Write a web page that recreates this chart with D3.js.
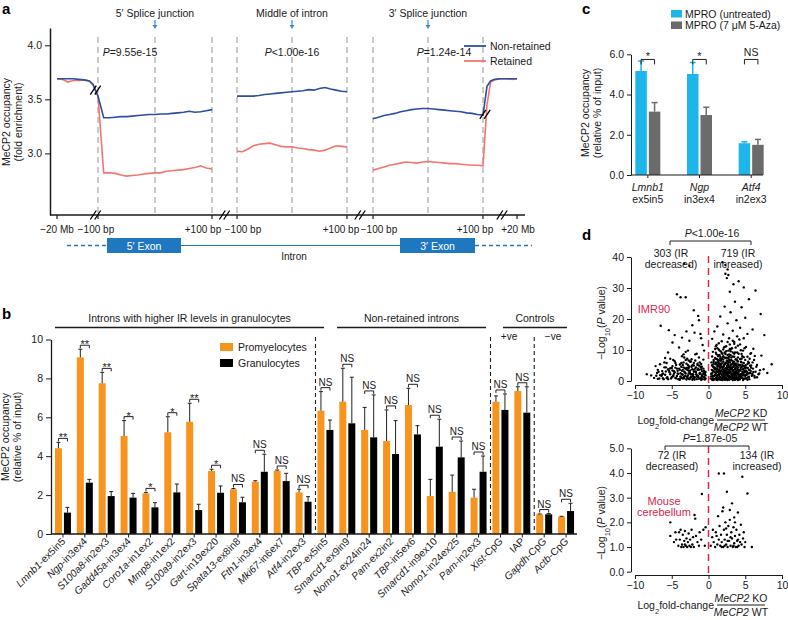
<!DOCTYPE html>
<html><head><meta charset="utf-8">
<script src="https://cdn.jsdelivr.net/npm/d3@7/dist/d3.min.js"></script>
<style>body{margin:0;background:#fff} svg{font-family:"Liberation Sans",Arial,sans-serif}</style>
</head><body><svg id="chart" width="788" height="620"></svg>
<script>
// ================= DATA =================
// Panel a: MeCP2 fold enrichment profiles
const aFlankPos = [0, 0.15, 0.3, 0.45, 0.6, 0.75, 0.9, 1];
const aFlankBlue = [3.69, 3.69, 3.69, 3.69, 3.685, 3.68, 3.67, 3.64];
const aFlankRed  = [3.69, 3.685, 3.66, 3.675, 3.675, 3.68, 3.67, 3.63];
const aBp = [-100,-90,-80,-70,-60,-50,-40,-30,-20,-10,0,10,20,30,40,50,60,70,80,90,100];
const a5Blue = [3.53,3.33,3.33,3.335,3.34,3.34,3.345,3.35,3.355,3.36,3.36,3.365,3.365,3.37,3.375,3.38,3.39,3.38,3.385,3.395,3.405];
const a5Red  = [3.53,2.82,2.82,2.815,2.80,2.79,2.795,2.80,2.81,2.815,2.82,2.82,2.835,2.84,2.845,2.85,2.86,2.87,2.885,2.865,2.855];
const aMidBlue = [3.53,3.53,3.53,3.53,3.535,3.545,3.55,3.555,3.56,3.565,3.57,3.575,3.58,3.59,3.585,3.60,3.61,3.595,3.585,3.575,3.57];
const aMidRed  = [3.02,3.015,3.04,3.07,3.085,3.09,3.095,3.08,3.065,3.06,3.06,3.05,3.045,3.035,3.03,3.02,3.03,3.05,3.07,3.065,3.06];
const a3Blue = [3.32,3.335,3.35,3.36,3.37,3.385,3.395,3.405,3.41,3.415,3.415,3.41,3.405,3.40,3.395,3.39,3.385,3.375,3.37,3.36,3.355];
const a3Red  = [2.845,2.86,2.875,2.89,2.90,2.91,2.92,2.915,2.91,2.92,2.925,2.92,2.915,2.91,2.905,2.905,2.90,2.895,2.89,2.89,2.885];
const aFlankRPos = [0, 0.12, 0.25, 0.45, 0.65, 0.85, 1];
const aFlankRBlue = [3.62, 3.67, 3.685, 3.69, 3.69, 3.69, 3.69];
const aFlankRRed  = [3.45, 3.66, 3.68, 3.69, 3.69, 3.685, 3.69];
const aYTicks = [3.0, 3.5, 4.0];
const aSegTitles = ["5\u2032 Splice junction", "Middle of intron", "3\u2032 Splice junction"];
const aPvals = ["=9.55e-15", "<1.00e-16", "=1.24e-14"];

// Panel b
const bGenes = ["Lmnb1","Ngp","S100a8","Gadd45a","Coro1a","Mmp8","S100a9","Gart","Spata13","Fth1","Mki67","Atf4",
  "TBP","Smarcd1","Nomo1","Pam","TBP","Smarcd1","Nomo1","Pam","Xist","IAP","Gapdh","Actb"];
const bSuffix = ["-ex5in5","-in3ex4","-in2ex3","-in3ex4","-in1ex2","-in1ex2","-in2ex3","-in19ex20","-ex8in8","-in3ex4","-in6ex7","-in2ex3",
  "-ex5in5","-ex9in9","-ex24in24","-ex2in2","-in5ex6","-in9ex10","-in24ex25","-in2ex3","-CpG","","-CpG","-CpG"];
const bItalic = [1,1,1,1,1,1,1,1,1,1,1,1,1,1,1,1,1,1,1,1,1,0,1,1];
const promyelocytes    = [4.41,9.08,7.75,5.04,2.09,5.23,5.77,3.24,2.30,2.69,3.25,2.14,6.34,6.80,5.35,4.78,6.63,1.95,2.17,1.87,6.80,7.35,1.01,0.89];
const promyelocytesErr = [4.71,9.50,8.31,5.83,2.14,6.03,6.72,3.33,2.34,2.74,3.29,2.30,7.32,8.52,6.51,6.38,7.49,2.81,3.03,2.30,7.10,7.57,1.03,0.91];
const granulocytes     = [1.10,2.64,1.95,1.87,1.37,2.14,1.23,2.12,1.63,3.20,2.72,1.66,5.35,5.69,4.97,4.11,5.12,4.49,3.94,3.20,6.38,6.24,1.01,1.18];
const granulocytesErr  = [1.37,2.81,2.18,2.09,1.61,2.57,1.53,2.47,1.89,4.10,3.12,1.92,5.86,8.06,7.15,5.83,5.57,5.90,4.78,4.01,7.20,7.57,1.05,1.58];
const bSig = ["**","**","**","*","*","*","**","*","NS","NS","NS","NS","NS","NS","NS","NS","NS","NS","NS","NS","NS","NS","NS","NS"];
const bYTicks = [0,2,4,6,8,10];
const bGroups = ["Introns with higher IR levels in granulocytes", "Non-retained introns", "Controls"];

// Panel c
const cGenes = ["Lmnb1","Ngp","Atf4"];
const cSub = ["ex5in5","in3ex4","in2ex3"];
const mproUntreated = [5.17, 5.02, 1.58];
const mproUntreatedErr = [5.67, 5.59, 1.65];
const mproAza = [3.15, 2.98, 1.50];
const mproAzaErr = [3.60, 3.37, 1.77];
const cSig = ["*","*","NS"];
const cYTicks = [0,2,4,6];

// Panel d: volcano points [log2 fold-change, -log10 P]
const imr90Points = [
 [-8.4,2.2],[-7.2,4.8],[-6.9,3.6],[-6.5,17.8],[-6.2,2.4],[-6.0,6.0],[-5.8,4.4],[-5.5,9.2],[-5.4,16.4],[-5.2,7.2],[-4.9,12.4],[-4.6,14.8],
 [-4.3,28.0],[-3.8,27.0],[-3.1,27.0],[-4.0,10.8],[-3.6,14.0],[-3.0,16.0],[-2.6,13.0],[-2.2,18.0],[-1.9,15.6],[-1.4,21.0],[-1.3,19.6],[-1.0,13.8],
 [-0.8,11.6],[-2.8,9.8],[-3.4,8.6],[-1.6,8.8],[-0.6,9.8],[-1.1,15.2],[-2.0,22.8],
 [-7.8,1.8],[-7.4,1.0],[-7.0,2.6],[-6.7,0.8],[-6.4,1.6],[-6.1,0.6],[-5.9,2.0],[-5.6,1.2],[-5.3,2.8],[-5.1,0.8],[-5.0,4.2],[-4.8,1.8],
 [-4.7,3.2],[-4.5,1.0],[-4.4,5.2],[-4.2,2.4],[-4.1,0.6],[-3.9,3.6],[-3.8,1.4],[-3.7,5.8],[-3.6,2.2],[-3.5,0.8],[-3.4,4.4],[-3.3,3.0],
 [-3.2,1.6],[-3.1,6.8],[-3.0,3.8],[-2.9,1.0],[-2.8,5.2],[-2.7,2.4],[-2.6,0.6],[-2.5,6.2],[-2.5,3.4],[-2.4,1.4],[-2.3,4.6],[-2.2,2.0],
 [-2.1,0.8],[-2.0,5.8],[-2.0,3.0],[-1.9,1.2],[-1.8,4.0],[-1.7,2.2],[-1.6,0.6],[-1.5,3.6],[-1.4,1.6],[-1.3,5.0],[-1.2,2.6],[-1.1,1.0],
 [-1.0,3.8],[-0.9,1.8],[-0.8,0.6],[-0.7,3.0],[-0.6,1.2],[-0.5,2.2],[-0.4,0.8],[-3.3,7.6],[-2.9,7.2],[-1.8,6.6],[-4.6,6.4],[-5.7,5.8],
 [-6.6,5.4],[-3.5,5.2],[-2.3,7.0],[-1.2,6.0],[-4.0,4.0],[-2.7,4.2],[-1.5,5.2],[-0.9,4.6],[-3.9,0.4],[-2.2,0.4],[-1.0,0.4],[-4.9,3.4],
 [-5.5,3.8],[-6.3,3.2],
 [-7.1,1.7],[-6.8,3.0],[-6.3,2.1],[-6.0,4.4],[-5.7,1.0],[-5.4,3.4],[-5.2,2.2],[-4.9,4.8],[-4.8,1.5],[-4.6,2.8],[-4.4,0.9],[-4.3,4.0],
 [-4.1,2.3],[-3.9,5.3],[-3.8,1.4],[-3.6,3.3],[-3.5,2.0],[-3.4,6.0],[-3.3,0.9],[-3.2,4.1],[-3.1,2.4],[-3.0,5.6],[-2.9,1.5],[-2.8,3.5],
 [-2.7,0.8],[-2.6,4.7],[-2.5,2.5],[-2.4,6.3],[-2.3,1.3],[-2.2,3.8],[-2.1,2.2],[-2.0,5.0],[-1.9,1.1],[-1.8,3.1],[-1.7,4.4],[-1.6,2.0],
 [-1.5,5.6],[-1.4,1.2],[-1.3,3.6],[-1.2,2.3],[-1.1,4.6],[-1.0,1.0],[-0.9,3.2],[-0.8,2.0],[-0.7,4.0],[-0.6,1.3],[-0.5,2.6],[-0.4,1.8],
 [-3.7,4.6],[-4.5,5.8],[-3.3,37.8],[-2.6,37.2],
 [-6.9,0.7],[-6.6,1.9],[-6.2,0.9],[-5.8,3.1],[-5.5,0.6],[-5.2,4.1],[-5.0,1.2],[-4.7,2.3],[-4.5,4.3],[-4.3,1.6],[-4.2,3.3],[-4.0,0.6],
 [-3.8,2.5],[-3.7,1.0],[-3.5,3.6],[-3.4,1.2],[-3.2,2.7],[-3.0,0.5],[-2.9,4.3],[-2.8,1.8],[-2.6,3.0],[-2.5,0.9],[-2.4,2.2],[-2.2,5.1],
 [-2.1,1.6],[-2.0,3.6],[-1.9,0.5],[-1.7,2.9],[-1.6,1.4],[-1.4,4.0],[-1.3,0.7],[-1.1,2.4],[-1.0,5.5],[-0.9,1.4],[-0.7,2.3],[-0.6,3.3],
 [-0.5,0.5],[-0.4,2.9],[-4.8,6.8],[-3.6,8.0],[-2.7,6.6],[-1.8,8.6],[-5.9,7.4],[-1.3,7.6],[-0.7,6.9],[-3.1,9.4],
 [1.9,38.3],[2.6,36.0],[2.3,37.4],
 [2.3,34.6],[2.7,34.2],[2.5,33.2],[4.1,32.2],[3.4,31.2],[4.8,30.2],[2.9,28.8],[6.4,29.2],[5.5,26.4],[3.6,25.6],[2.2,24.0],[4.5,23.8],
 [7.1,21.6],[3.0,22.2],[1.6,20.8],[5.0,20.4],[3.8,19.6],[2.6,18.6],[6.0,16.6],[1.2,17.6],[4.3,17.2],[0.8,16.0],[3.3,16.2],[5.3,15.2],
 [2.0,15.0],[7.6,14.8],[0.5,13.6],[4.8,13.8],[6.6,5.2],[8.6,5.4],[7.2,8.2],[6.1,10.4],[5.7,8.8],[8.0,2.6],[7.5,3.8],[6.9,2.4],[3.9,14.4],
 [1.8,12.8],[2.8,13.8],[3.5,12.6],[4.3,11.8],[5.1,11.0],[1.0,11.2],
 [0.3,0.8],[0.4,2.4],[0.5,0.4],[0.5,5.0],[0.6,1.6],[0.7,3.2],[0.7,6.8],[0.8,0.6],[0.9,2.0],[0.9,4.2],[1.0,1.0],[1.0,6.0],[1.1,2.8],
 [1.1,0.4],[1.2,5.2],[1.2,1.4],[1.3,3.6],[1.3,8.0],[1.4,0.8],[1.4,2.2],[1.5,4.6],[1.5,6.6],[1.6,1.2],[1.6,3.0],[1.7,0.4],[1.7,5.6],
 [1.8,2.0],[1.8,9.0],[1.9,0.8],[1.9,3.8],[2.0,1.6],[2.0,6.2],[2.1,2.6],[2.1,0.6],[2.1,4.8],[2.2,1.2],[2.2,3.4],[2.3,7.4],[2.3,0.4],
 [2.3,2.2],[2.4,4.0],[2.4,1.0],[2.5,2.8],[2.5,5.8],[2.5,0.6],[2.6,1.8],[2.6,8.4],[2.7,3.6],[2.7,0.8],[2.7,5.0],[2.8,2.4],[2.8,0.4],
 [2.8,6.8],[2.9,1.4],[2.9,4.2],[3.0,3.0],[3.0,0.6],[3.0,9.6],[3.1,2.0],[3.1,5.4],[3.2,1.0],[3.2,3.8],[3.3,6.4],[3.3,1.8],[3.4,0.6],
 [3.4,2.8],[3.4,4.6],[3.5,1.2],[3.5,7.8],[3.6,2.2],[3.6,3.8],[3.7,0.8],[3.7,5.6],[3.8,3.2],[3.8,1.6],[3.9,6.6],[3.9,0.6],[4.0,2.4],
 [4.0,4.4],[4.1,1.2],[4.1,8.8],[4.2,3.4],[4.3,0.8],[4.3,5.2],[4.4,2.0],[4.5,7.2],[4.5,1.0],[4.6,3.8],[4.7,1.8],[4.8,5.8],[4.9,2.8],
 [5.0,0.8],[5.1,4.4],[5.2,2.2],[5.4,6.2],[5.5,1.4],[5.6,3.6],[5.8,5.0],[6.0,2.0],[6.2,6.8],[2.0,10.2],[2.4,11.2],[3.2,10.6],[1.5,9.8],
 [3.6,9.2],[2.9,11.8],[4.7,9.8],[1.1,8.6],[0.6,9.4],[4.0,11.4],[5.3,7.8],[1.9,7.6],[2.6,6.4],[3.8,4.8],[4.4,6.2],[1.4,5.8],[0.8,4.0],
 [1.6,7.2],[3.1,7.6],[2.2,9.2],[2.8,8.6],[4.9,4.6],[5.7,2.6],[0.4,6.0],[1.2,10.6],[3.5,5.6],[2.4,2.6],[1.8,4.6],[3.0,4.4],
 [0.4,2.2],[0.5,5.1],[0.6,3.3],[0.6,0.9],[0.7,6.2],[0.8,4.4],[0.8,1.7],[0.9,7.4],[0.9,3.8],[1.0,2.6],[1.0,9.1],[1.0,0.9],[1.1,5.8],
 [1.1,3.3],[1.2,1.9],[1.2,7.0],[1.2,4.6],[1.3,0.8],[1.3,2.9],[1.3,6.1],[1.4,8.3],[1.4,3.7],[1.5,1.3],[1.5,5.4],[1.5,0.5],[1.6,2.5],
 [1.6,7.8],[1.6,4.2],[1.7,1.0],[1.7,6.5],[1.7,3.4],[1.8,2.0],[1.8,5.7],[1.8,0.6],[1.9,3.0],[1.9,8.8],[1.9,1.4],[2.0,4.6],[2.0,2.2],
 [2.0,6.9],[2.1,0.9],[2.1,3.6],[2.1,5.3],[2.2,2.8],[2.2,1.1],[2.2,7.6],[2.3,4.1],[2.3,2.0],[2.3,5.9],[2.4,0.8],[2.4,3.3],[2.4,9.6],
 [2.5,2.2],[2.5,4.9],[2.5,6.6],[2.6,1.5],[2.6,3.8],[2.6,0.6],[2.7,5.4],[2.7,2.9],[2.7,7.3],[2.8,1.6],[2.8,4.5],[2.8,0.9],[2.9,3.5],
 [2.9,6.0],[2.9,1.3],[3.0,2.7],[3.0,8.3],[3.0,5.0],[3.1,0.7],[3.1,3.9],[3.1,6.8],[3.2,2.3],[3.2,4.4],[3.2,1.2],[3.3,5.6],[3.3,2.0],
 [3.3,7.9],[3.4,3.6],[3.4,1.0],[3.4,4.9],[3.5,2.4],[3.5,6.2],[3.5,1.6],[3.6,3.0],[3.6,5.1],[3.6,0.8],[3.7,4.0],[3.7,1.9],[3.7,7.0],
 [3.8,3.2],[3.8,5.6],[3.8,1.2],[3.9,2.4],[3.9,4.7],[4.0,0.9],[4.0,3.6],[4.0,6.3],[4.1,1.8],[4.1,2.9],[4.2,5.0],[4.2,0.7],[4.3,3.4],
 [4.3,1.4],[4.4,4.4],[4.4,2.2],[4.5,6.0],[4.5,1.1],[4.6,3.0],[4.6,5.2],[4.7,1.9],[4.7,3.9],[4.8,0.8],[4.8,4.8],[4.9,2.8],[5.0,1.6],
 [5.0,4.1],[5.1,3.3],[5.2,2.0],[5.3,5.5],[5.4,1.2],[5.5,3.6],[5.6,2.6],[5.8,4.3],[5.9,1.7],[6.1,2.9],[6.3,1.1],[6.5,4.6],[6.8,2.2],
 [7.0,3.5],[1.4,10.2],[2.2,11.0],[3.1,10.4],[3.9,9.2],[4.6,8.0],[2.7,9.8],[1.1,11.6],[3.5,12.0],[4.9,10.6],[5.6,7.2],[6.0,6.0],
 [0.35,1.5],[0.45,3.6],[0.55,2.7],[0.65,4.5],[0.75,0.5],[0.85,2.9],[0.95,5.4],[1.05,1.8],[1.15,3.9],[1.25,0.6],[1.35,4.8],[1.45,1.9],
 [1.55,3.2],[1.65,5.1],[1.75,2.3],[1.85,0.9],[1.95,4.3],[2.05,2.9],[2.15,1.5],[2.25,5.5],[2.35,3.1],[2.45,0.7],[2.55,4.4],[2.65,2.4],
 [2.75,6.1],[2.85,3.0],[2.95,0.9],[3.05,4.1],[3.15,1.6],[3.25,3.3],[3.35,5.9],[3.45,2.0],[3.55,0.5],[3.65,4.3],[3.75,2.6],[3.85,1.0],
 [3.95,3.9],[4.05,5.3],[4.15,2.1],[4.25,0.5],[4.35,3.8],[4.45,1.6],[4.55,4.6],[4.65,2.5],[4.75,0.6],[4.85,3.4],[4.95,1.9],[5.05,5.1],
 [5.15,0.9],[5.25,2.9],[5.35,4.2],[5.45,2.4],[5.55,0.6],[5.65,4.9],[5.75,3.2],[5.95,2.3],[6.05,4.0],[6.25,1.6],[6.4,3.0],[6.6,1.2],
 [1.0,7.2],[1.5,8.4],[2.0,8.0],[2.5,7.5],[3.0,6.6],[3.5,8.8],[4.0,7.6],[4.5,8.7],[5.0,6.8],[5.5,5.8],[1.3,6.6],[1.8,7.1],[2.3,8.7],
 [2.8,7.8],[3.3,9.2],[3.8,6.9],[4.3,7.1],[4.8,7.7],[0.7,5.6],[0.5,7.9],[2.1,10.8],[2.9,10.3],[3.7,10.8],[1.7,9.5],[4.4,9.9],[0.9,10.3],
 [5.8,9.0],[6.3,8.1],[2.6,12.6],[3.3,13.0],[1.4,12.2],[4.2,13.4],[1.9,0.3],[2.6,0.3],[3.3,0.3],[4.0,0.3],[4.7,0.3],[1.2,0.3],[0.6,0.3],
 [5.3,0.4],[2.2,0.5],[3.6,0.4]];
const cerebellumPoints = [
 [-5.2,2.0],[-5.2,1.45],[-4.7,1.2],[-4.4,1.3],[-4.0,1.6],[-3.8,1.7],[-3.6,1.1],[-3.5,1.5],[-3.4,1.0],[-3.3,1.25],[-3.2,1.65],[-3.1,1.05],
 [-3.0,1.35],[-2.9,1.0],[-2.8,1.2],[-2.7,1.55],[-2.6,1.05],[-2.5,1.3],[-2.3,1.7],[-2.2,1.1],[-2.0,1.0],[-1.9,2.3],[-1.8,2.15],[-1.7,1.45],
 [-1.5,1.2],[-1.2,1.6],[-0.9,3.15],[-0.4,1.8],[-0.5,1.05],[-3.7,1.0],[-3.9,1.3],[-4.1,1.05],[-2.4,1.0],[-1.3,1.05],[-2.1,1.4],[-3.2,1.1],
 [-1.0,1.3],[-4.5,1.6],[-0.7,1.7],
 [0.3,1.05],[0.5,1.4],[0.7,1.2],[0.9,1.0],[1.0,1.6],[1.2,1.1],[1.4,3.98],[2.1,3.98],[1.4,1.3],[1.5,1.85],[1.6,1.05],[1.7,1.5],[1.8,1.2],
 [1.9,2.45],[2.0,1.0],[2.1,1.7],[2.2,1.3],[2.3,2.0],[2.4,1.1],[2.5,3.24],[2.5,1.5],[2.6,1.0],[2.7,1.85],[2.8,1.25],[2.9,2.1],[3.0,1.05],
 [3.1,1.6],[3.2,2.77],[3.2,1.35],[3.3,1.0],[3.4,1.8],[3.5,1.15],[3.5,2.2],[3.6,1.45],[3.7,1.0],[3.8,1.7],[3.9,1.25],[4.0,2.4],[4.1,1.05],
 [4.2,1.5],[4.3,1.2],[4.4,1.9],[4.6,3.85],[4.5,1.1],[4.7,1.35],[4.9,1.0],[5.0,1.2],[5.3,3.17],[5.9,1.0],[1.3,2.25],[2.0,2.6],[2.9,2.5],
 [3.6,2.0],[3.0,1.4],[2.4,1.75],[1.1,1.45],[0.6,1.7],[3.9,1.0],[4.8,1.6],[2.2,1.05],[1.8,1.0],[3.4,1.05],[2.6,1.25],[4.0,1.3]];
const dXTicks = [-10,-5,0,5,10];
const dTopYTicks = [0,10,20,30,40];
const dBotYTicks = [0,1,2,3,4,5];

// ================= DRAWING =================
const svg = d3.select("#chart");
const INK = "#1a1a1a";
function txt(x, y, s, o = {}) {
  const t = svg.append("text").attr("x", x).attr("y", y).text(s)
    .attr("font-size", o.size || 10.5).attr("fill", o.fill || INK)
    .attr("text-anchor", o.anchor || "start");
  if (o.weight) t.attr("font-weight", o.weight);
  if (o.italic) t.attr("font-style", "italic");
  return t;
}
function line(x1, y1, x2, y2, o = {}) {
  const l = svg.append("line").attr("x1", x1).attr("y1", y1).attr("x2", x2).attr("y2", y2)
    .attr("stroke", o.stroke || INK).attr("stroke-width", o.w || 1);
  if (o.dash) l.attr("stroke-dasharray", o.dash);
  return l;
}
function styleAxis(g, size) {
  g.selectAll("text").attr("font-size", size || 10.5).attr("fill", INK).attr("font-family", '"Liberation Sans", Arial, sans-serif');
  g.selectAll("line,path").attr("stroke", INK);
}
function rotLabel(x, y, lines, size) {
  const g = svg.append("g").attr("transform", `translate(${x},${y}) rotate(-90)`);
  lines.forEach((l, i) => {
    const t = g.append("text").attr("x", 0).attr("y", i * 12).attr("text-anchor", "middle")
      .attr("font-size", size || 10.5).attr("fill", INK);
    l.forEach(p => {
      const s = t.append("tspan").text(p.t);
      if (p.i) s.attr("font-style", "italic");
      if (p.sub) s.attr("font-size", 7.5).attr("baseline-shift", "sub");
    });
  });
}
function panelLetter(x, y, s) { txt(x, y, s, {size: 15, weight: "bold", fill: "#000"}); }

// ---------- Panel a ----------
panelLetter(2, 14, "a");
const aY = d3.scaleLinear().domain([2.43, 4.16]).range([215, 28]);
const aXL = d3.scaleLinear().domain([0, 1]).range([57, 93]);
const aX5 = d3.scaleLinear().domain([-100, 100]).range([98, 212]);
const aXM = d3.scaleLinear().domain([-100, 100]).range([237, 347]);
const aX3 = d3.scaleLinear().domain([-100, 100]).range([373, 483]);
const aXR = d3.scaleLinear().domain([0, 1]).range([487, 517]);
const BLUE = "#2c4fa3", RED = "#f2766f", GRAYD = "#bdbdbd";

[aX5, aXM, aX3].forEach(s => [-100, 0, 100].forEach(b =>
  line(s(b), 37, s(b), 215, {stroke: GRAYD, w: 1.6, dash: "6,4"})));

[aX5, aXM, aX3].forEach((s, i) => {
  txt(s(0), 17, aSegTitles[i], {anchor: "middle", size: 10.5});
  line(s(0), 20, s(0), 26, {stroke: "#3b8bd0", w: 1.2});
  svg.append("path").attr("d", `M${s(0)-2.5},25 L${s(0)+2.5},25 L${s(0)},29 Z`).attr("fill", "#3b8bd0");
});
const pOff = [-25, 0, 16];
[aX5, aXM, aX3].forEach((s, i) => {
  const t = txt(s(0) + pOff[i], 56, "", {anchor: "middle", size: 10.5});
  t.append("tspan").attr("font-style", "italic").text("P");
  t.append("tspan").text(aPvals[i]);
});

const lineGen = d3.line().x(d => d[0]).y(d => aY(d[1]));
function drawA(pts, color) {
  svg.append("path").attr("d", lineGen(pts)).attr("fill", "none").attr("stroke", color).attr("stroke-width", 1.6);
}
const zipS = (pos, vals, sc) => pos.map((p, i) => [sc(p), vals[i]]);
drawA(zipS(aFlankPos, aFlankRed, aXL).concat(zipS(aBp, a5Red, aX5)), RED);
drawA(zipS(aFlankPos, aFlankBlue, aXL).concat(zipS(aBp, a5Blue, aX5)), BLUE);
drawA(zipS(aBp, aMidRed, aXM), RED);
drawA(zipS(aBp, aMidBlue, aXM), BLUE);
drawA(zipS(aBp, a3Red, aX3).concat(zipS(aFlankRPos, aFlankRRed, aXR)), RED);
drawA(zipS(aBp, a3Blue, aX3).concat(zipS(aFlankRPos, aFlankRBlue, aXR)), BLUE);

function breakMark(x, y) {
  [-2.2, 2.2].forEach(d => line(x + d - 3, y + 4.5, x + d + 3, y - 4.5, {stroke: "#000", w: 1.3}));
}
breakMark((aXL(1) + aX5(-100)) / 2, aY(3.585));
breakMark((aX3(100) + aXR(0)) / 2, aY(3.36));

const gAy = svg.append("g").attr("transform", "translate(50,0)")
  .call(d3.axisLeft(aY).tickValues(aYTicks).tickFormat(d3.format(".1f")).tickSize(5).tickSizeOuter(0));
styleAxis(gAy, 10.5); gAy.select(".domain").attr("stroke-width", 1.5);
line(50, 215, 525, 215, {w: 1.5});
const aTicks = [aXL(0), aX5(-100), aX5(100), aXM(-100), aXM(100), aX3(-100), aX3(100), aXR(1)];
aTicks.forEach(x => line(x, 215, x, 219, {w: 1.2}));
const aTickLab = ["\u221220 Mb", "\u2212100 bp", "+100 bp", "\u2212100 bp", "+100 bp", "\u2212100 bp", "+100 bp", "+20 Mb"];
const aTickDx = [0, -2, -9, 6, -6, 6, -8, 1];
aTicks.forEach((x, i) => txt(x + aTickDx[i], 233, aTickLab[i], {anchor: "middle", size: 10}));
[(aXL(1) + aX5(-100)) / 2, (aX5(100) + aXM(-100)) / 2, (aXM(100) + aX3(-100)) / 2, (aX3(100) + aXR(1)) / 2 + 2]
  .forEach(x => breakMark(x, 215));
rotLabel(10, 122, [[{t: "MeCP2 occupancy"}], [{t: "(fold enrichment)"}]], 10.5);

line(464, 46, 486, 46, {stroke: BLUE, w: 1.8}); txt(490, 50, "Non-retained", {size: 10.5});
line(464, 61, 486, 61, {stroke: RED, w: 1.8}); txt(490, 65, "Retained", {size: 10.5});

const EXB = "#1f77c0";
line(67, 245.5, 106, 245.5, {stroke: EXB, w: 1.6, dash: "4,3"});
line(181, 245.5, 400, 245.5, {stroke: EXB, w: 1.2});
line(475, 245.5, 532, 245.5, {stroke: EXB, w: 1.6, dash: "4,3"});
svg.append("rect").attr("x", 107).attr("y", 238).attr("width", 74).attr("height", 15).attr("fill", EXB);
svg.append("rect").attr("x", 400).attr("y", 238).attr("width", 75).attr("height", 15).attr("fill", EXB);
txt(144, 249.5, "5\u2032 Exon", {anchor: "middle", size: 10.5, fill: "#fff"});
txt(437.5, 249.5, "3\u2032 Exon", {anchor: "middle", size: 10.5, fill: "#fff"});
txt(294, 260, "Intron", {anchor: "middle", size: 10});

// ---------- Panel b ----------
panelLetter(2, 319, "b");
const ORANGE = "#f7941d";
const bKeys = bGenes.map((g, i) => g + bSuffix[i]);
const bX = d3.scaleBand().domain(bKeys).range([52, 577]);
const bY = d3.scaleLinear().domain([0, 10]).range([534, 339.5]);
const bc = i => bX(bKeys[i]) + bX.bandwidth() / 2;
const BW = 7;

[12, 20, 22].forEach(i => line(bX(bKeys[i]) + 1, 337, bX(bKeys[i]) + 1, 534, {stroke: "#222", w: 1.1, dash: "4,3"}));
txt(509, 340, "+ve", {anchor: "middle", size: 10});
txt(553, 340, "\u2212ve", {anchor: "middle", size: 10});

const bHeadX = [[55, 324], [337, 486], [503, 567]];
bGroups.forEach((g, gi) => {
  const [xa, xb] = bHeadX[gi];
  line(xa, 327.5, xb, 327.5, {w: 1.3});
  txt((xa + xb) / 2, 322, g, {anchor: "middle", size: 10.5});
});

bKeys.forEach((k, i) => {
  const c = bc(i);
  svg.append("rect").attr("x", c - 8).attr("y", bY(promyelocytes[i])).attr("width", BW)
    .attr("height", bY(0) - bY(promyelocytes[i])).attr("fill", ORANGE);
  svg.append("rect").attr("x", c + 1).attr("y", bY(granulocytes[i])).attr("width", BW)
    .attr("height", bY(0) - bY(granulocytes[i])).attr("fill", "#000");
  [[c - 4.5, promyelocytes[i], promyelocytesErr[i]], [c + 4.5, granulocytes[i], granulocytesErr[i]]].forEach(([x, v, e]) => {
    line(x, bY(v), x, bY(e), {stroke: "#222", w: 1});
    line(x - 2, bY(e), x + 2, bY(e), {stroke: "#222", w: 1});
  });
  const by = Math.min(bY(promyelocytesErr[i]), bY(granulocytesErr[i])) - 4;
  const p = `M${c - 4.5},${by + 3}V${by}H${c + 4.5}V${by + 3}`;
  svg.append("path").attr("d", p).attr("fill", "none").attr("stroke", "#222").attr("stroke-width", 1);
  if (bSig[i] === "NS") txt(c, by - 2, "NS", {anchor: "middle", size: 10});
  else txt(c, by + 3, bSig[i], {anchor: "middle", size: 11});
});

const gBy = svg.append("g").attr("transform", "translate(51,0)")
  .call(d3.axisLeft(bY).tickValues(bYTicks).tickSize(5).tickSizeOuter(0));
styleAxis(gBy, 10.5); gBy.select(".domain").attr("stroke-width", 1.3);
line(51, 534, 577, 534, {w: 1.3});
bKeys.forEach((k, i) => {
  line(bc(i), 534, bc(i), 537.5, {w: 1});
  const t = svg.append("text").attr("transform", `translate(${bc(i) + 3},${542}) rotate(-45)`)
    .attr("text-anchor", "end").attr("font-size", 10.2).attr("fill", INK);
  const g = t.append("tspan").text(bGenes[i]);
  if (bItalic[i]) g.attr("font-style", "italic");
  t.append("tspan").text(bSuffix[i]);
});
rotLabel(9, 437, [[{t: "MeCP2 occupancy"}], [{t: "(relative % of input)"}]], 10.5);

svg.append("rect").attr("x", 220).attr("y", 343).attr("width", 13).attr("height", 8).attr("fill", ORANGE);
txt(238, 351, "Promyelocytes", {size: 10.5});
svg.append("rect").attr("x", 220).attr("y", 359).attr("width", 13).attr("height", 8).attr("fill", "#000");
txt(238, 367, "Granulocytes", {size: 10.5});

// ---------- Panel c ----------
panelLetter(582, 14, "c");
const CYAN = "#1cb6ea", GRAYB = "#6b6b6b";
const cX = d3.scaleBand().domain(cGenes).range([622, 777]);
const cY = d3.scaleLinear().domain([0, 6]).range([175, 54.3]);
const cc = i => cX(cGenes[i]) + cX.bandwidth() / 2;
const cBracketY = cY(d3.max(mproUntreatedErr.concat(mproAzaErr))) - 1.5;
cGenes.forEach((g, i) => {
  const c = cc(i);
  svg.append("rect").attr("x", c - 12.5).attr("y", cY(mproUntreated[i])).attr("width", 11.5)
    .attr("height", cY(0) - cY(mproUntreated[i])).attr("fill", CYAN);
  svg.append("rect").attr("x", c + 1).attr("y", cY(mproAza[i])).attr("width", 11.5)
    .attr("height", cY(0) - cY(mproAza[i])).attr("fill", GRAYB);
  [[c - 6.75, mproUntreated[i], mproUntreatedErr[i], CYAN], [c + 6.75, mproAza[i], mproAzaErr[i], GRAYB]].forEach(([x, v, e, col]) => {
    line(x, cY(v), x, cY(e), {stroke: col, w: 1.5});
    line(x - 3, cY(e), x + 3, cY(e), {stroke: col, w: 1.5});
  });
  const p = `M${c - 6.75},${cBracketY + 5}V${cBracketY}H${c + 6.75}V${cBracketY + 5}`;
  svg.append("path").attr("d", p).attr("fill", "none").attr("stroke", "#222").attr("stroke-width", 1);
  if (cSig[i] === "NS") txt(c, cBracketY - 3, "NS", {anchor: "middle", size: 10.5});
  else txt(c, cBracketY + 1, cSig[i], {anchor: "middle", size: 11});
  txt(c, 191, g, {anchor: "middle", size: 10.5, italic: true});
  txt(c, 203, cSub[i], {anchor: "middle", size: 10.5});
  line(c, 175, c, 178, {w: 1});
});
const gCy = svg.append("g").attr("transform", "translate(631,0)")
  .call(d3.axisLeft(cY).tickValues(cYTicks).tickSize(4).tickSizeOuter(0));
styleAxis(gCy, 10.5);
line(631, 175, 763, 175, {w: 1});
rotLabel(589, 113, [[{t: "MeCP2 occupancy"}], [{t: "(relative % of input)"}]], 10.5);
svg.append("rect").attr("x", 671).attr("y", 10).attr("width", 11).attr("height", 7.5).attr("fill", CYAN);
txt(685, 18, "MPRO (untreated)", {size: 10.5});
svg.append("rect").attr("x", 671).attr("y", 21.5).attr("width", 11).attr("height", 7.5).attr("fill", GRAYB);
txt(685, 29, "MPRO (7 \u03bcM 5-Aza)", {size: 10.5});

// ---------- Panel d ----------
panelLetter(582, 240, "d");
const dRED = "#d9264a";
const dX = d3.scaleLinear().domain([-10, 10]).range([635, 782]);
function volcano(pts, yScale, yTicks, axisY, dashTop, cfg) {
  svg.append("g").selectAll("circle").data(pts).join("circle")
    .attr("cx", d => dX(d[0])).attr("cy", d => yScale(d[1])).attr("r", 1.2).attr("fill", "#000");
  line(dX(0), dashTop, dX(0), axisY, {stroke: dRED, w: 1.5, dash: "7,5"});
  const gy = svg.append("g").attr("transform", "translate(631,0)")
    .call(d3.axisLeft(yScale).tickValues(yTicks).tickSize(4).tickSizeOuter(0));
  styleAxis(gy, 10.5);
  const gx = svg.append("g").attr("transform", `translate(0,${axisY})`)
    .call(d3.axisBottom(dX).tickValues(dXTicks).tickSize(4).tickSizeOuter(0)
      .tickFormat(d => d < 0 ? "\u2212" + Math.abs(d) : d));
  styleAxis(gx, 10.5);
  const t = txt(714, cfg.titleY, "", {size: 10.5, anchor: "end"});
  t.append("tspan").text("Log");
  t.append("tspan").text("2").attr("font-size", 7.5).attr("baseline-shift", "sub");
  t.append("tspan").text("fold-change");
  const n = txt(741, cfg.titleY - 7, "", {size: 10.5, anchor: "middle"});
  n.append("tspan").text("MeCP2").attr("font-style", "italic"); n.append("tspan").text(" " + cfg.cond);
  line(717, cfg.titleY - 4, 765, cfg.titleY - 4, {w: 1});
  const dd = txt(741, cfg.titleY + 7, "", {size: 10.5, anchor: "middle"});
  dd.append("tspan").text("MeCP2").attr("font-style", "italic"); dd.append("tspan").text(" WT");
  const p = txt(cfg.pX, cfg.pY, "", {size: 10.5, anchor: "middle"});
  p.append("tspan").text("P").attr("font-style", "italic"); p.append("tspan").text(cfg.pText);
  svg.append("path").attr("d", `M${cfg.bx1},${cfg.pY + 8}V${cfg.pY + 4}H${cfg.bx2}V${cfg.pY + 8}`)
    .attr("fill", "none").attr("stroke", "#222").attr("stroke-width", 1);
  txt(cfg.lx, cfg.pY + cfg.l1, cfg.left[0], {size: 10.5, anchor: "middle"});
  txt(cfg.lx, cfg.pY + cfg.l1 + 11, cfg.left[1], {size: 10.5, anchor: "middle"});
  txt(cfg.rx, cfg.pY + cfg.l1, cfg.right[0], {size: 10.5, anchor: "middle"});
  txt(cfg.rx, cfg.pY + cfg.l1 + 11, cfg.right[1], {size: 10.5, anchor: "middle"});
  cfg.sample.forEach((s, i) => txt(cfg.sx, cfg.sy + i * 11, s, {size: 11, anchor: "middle", fill: dRED}));
  rotLabel(605, cfg.ylabY, [[{t: "\u2212Log"}, {t: "10", sub: true}, {t: "("}, {t: "P", i: true}, {t: " value)"}]], 10.5);
}
const dTopY = d3.scaleLinear().domain([0, 40]).range([381, 257]);
volcano(imr90Points, dTopY, dTopYTicks, 385, 256, {
  titleY: 424, cond: "KD", pX: 712, pY: 237, pText: "<1.00e-16", bx1: 670, bx2: 751, l1: 20,
  lx: 671, rx: 738, left: ["303 (IR", "decreased)"], right: ["719 (IR", "increased)"],
  sample: ["IMR90"], sx: 654, sy: 313, ylabY: 323});
const dBotY = d3.scaleLinear().domain([0, 5]).range([571.7, 448.3]);
volcano(cerebellumPoints, dBotY, dBotYTicks, 575, 446, {
  titleY: 609, cond: "KO", pX: 710, pY: 442, pText: "=1.87e-05", bx1: 665, bx2: 749, l1: 17,
  lx: 672, rx: 757, left: ["72 (IR", "decreased)"], right: ["134 (IR", "increased)"],
  sample: ["Mouse", "cerebellum"], sx: 664, sy: 505, ylabY: 523});
</script></body></html>
